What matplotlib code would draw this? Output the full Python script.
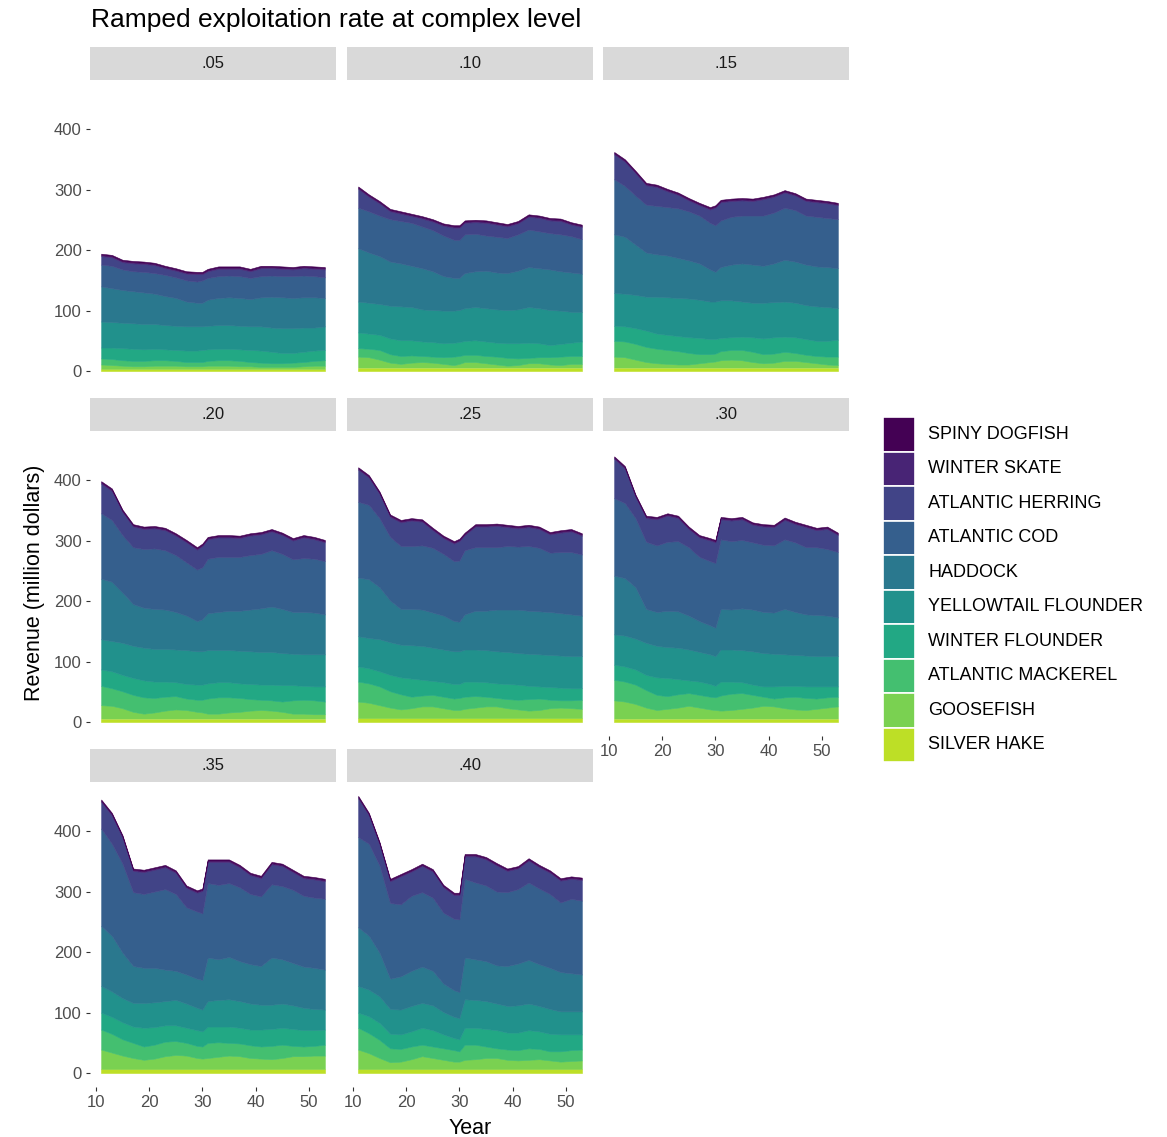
"""Stacked revenue by species for each ramped exploitation rate (facet grid)."""

import matplotlib
matplotlib.use("Agg")
import matplotlib.pyplot as plt

plt.rcParams["font.family"] = ["Liberation Sans", "DejaVu Sans"]

W, H = 1167, 1137

YEARS = [11, 13, 15, 17, 19, 21, 23, 25, 27, 29, 30, 31, 33, 35, 37, 39, 41, 43, 45, 47, 49, 51, 53]

# legend order (top of stack first)
SPECIES = ["SPINY DOGFISH", "WINTER SKATE", "ATLANTIC HERRING", "ATLANTIC COD", "HADDOCK",
           "YELLOWTAIL FLOUNDER", "WINTER FLOUNDER", "ATLANTIC MACKEREL", "GOOSEFISH", "SILVER HAKE"]

RATES = [".05", ".10", ".15", ".20", ".25", ".30", ".35", ".40"]

# revenue (million dollars), one row per species in SPECIES order
REV_05 = [
    [2, 2, 2, 2, 2, 2, 2, 2, 2, 2, 2, 2, 2, 2, 2, 2, 2, 2, 2, 2, 2, 2, 2],
    [2, 2, 2, 2, 2, 2, 2, 2, 2, 2, 2, 2, 2, 2, 2, 2, 2, 2, 2, 2, 2, 2, 2],
    [14, 14, 12, 13, 13, 13, 11, 11, 11, 12, 10, 11, 12, 11, 12, 11, 13, 12, 12, 11, 12, 12, 13],
    [36, 37, 34, 33, 34, 34, 35, 34, 35, 35, 37, 36, 36, 36, 36, 35, 35, 35, 35, 36, 36, 35, 34],
    [58, 56, 54, 53, 52, 50, 48, 46, 41, 39, 39, 43, 45, 46, 46, 45, 48, 51, 51, 50, 50, 50, 47],
    [43, 42, 42, 42, 42, 41, 40, 40, 40, 40, 39, 39, 39, 39, 39, 39, 40, 40, 41, 41, 40, 38, 39],
    [18, 19, 20, 20, 19, 19, 18, 18, 19, 19, 20, 19, 19, 19, 19, 20, 20, 19, 17, 16, 17, 17, 17],
    [10, 10, 9, 9, 9, 9, 9, 8, 7, 7, 7, 8, 9, 9, 9, 7, 7, 6, 6, 7, 7, 8, 9],
    [7, 6, 5, 4, 4, 5, 5, 5, 4, 4, 4, 5, 5, 5, 4, 4, 3, 3, 3, 3, 4, 5, 5],
    [4, 4, 4, 4, 4, 4, 4, 4, 4, 4, 4, 4, 4, 4, 4, 4, 4, 4, 4, 4, 4, 4, 4],
]
REV_10 = [
    [2, 2, 2, 2, 2, 2, 2, 2, 2, 2, 2, 2, 2, 2, 2, 2, 2, 2, 2, 2, 2, 2, 2],
    [2, 2, 2, 2, 2, 2, 2, 2, 2, 2, 2, 2, 2, 2, 2, 2, 2, 2, 2, 2, 2, 2, 2],
    [31, 24, 20, 13, 12, 11, 13, 14, 16, 20, 20, 19, 19, 21, 20, 19, 18, 21, 22, 21, 22, 19, 20],
    [67, 68, 67, 70, 70, 71, 69, 68, 67, 63, 63, 64, 62, 58, 59, 58, 60, 62, 61, 60, 61, 60, 57],
    [88, 83, 79, 73, 71, 68, 68, 64, 57, 54, 53, 58, 59, 62, 61, 61, 64, 66, 66, 67, 65, 65, 63],
    [51, 51, 51, 54, 56, 55, 53, 53, 54, 53, 53, 54, 55, 55, 55, 55, 56, 59, 58, 58, 55, 51, 49],
    [26, 25, 25, 26, 26, 25, 24, 24, 23, 23, 23, 23, 24, 24, 23, 24, 25, 25, 23, 20, 21, 22, 24],
    [14, 14, 16, 14, 13, 12, 10, 10, 11, 14, 13, 12, 12, 12, 13, 13, 11, 9, 10, 12, 14, 13, 13],
    [18, 17, 13, 8, 6, 8, 9, 8, 6, 4, 6, 9, 9, 7, 5, 3, 4, 7, 7, 5, 4, 6, 6],
    [6, 6, 6, 6, 6, 6, 6, 6, 6, 6, 6, 6, 6, 6, 6, 6, 6, 6, 6, 6, 6, 6, 6],
]
REV_15 = [
    [2, 2, 2, 2, 2, 2, 2, 2, 2, 2, 2, 2, 2, 2, 2, 2, 2, 2, 2, 2, 2, 2, 2],
    [2, 2, 2, 2, 2, 2, 2, 2, 2, 2, 2, 2, 2, 2, 2, 2, 2, 2, 2, 2, 2, 2, 2],
    [41, 40, 37, 32, 31, 26, 22, 18, 17, 22, 29, 30, 26, 25, 24, 27, 26, 25, 24, 24, 24, 24, 23],
    [91, 84, 81, 79, 80, 80, 82, 81, 79, 77, 77, 77, 79, 79, 81, 83, 84, 86, 85, 81, 82, 81, 81],
    [97, 94, 83, 73, 70, 69, 66, 63, 60, 53, 49, 55, 59, 63, 63, 61, 64, 69, 68, 67, 66, 66, 66],
    [54, 54, 55, 56, 61, 62, 63, 64, 63, 62, 62, 62, 61, 58, 57, 59, 58, 58, 57, 56, 57, 56, 52],
    [25, 25, 26, 27, 25, 25, 25, 26, 27, 25, 24, 22, 21, 22, 24, 26, 27, 25, 26, 26, 25, 26, 28],
    [26, 26, 26, 25, 24, 23, 22, 19, 15, 13, 13, 15, 16, 17, 17, 15, 15, 15, 13, 12, 12, 13, 14],
    [18, 17, 13, 9, 7, 6, 5, 5, 7, 9, 10, 12, 13, 12, 9, 7, 8, 11, 11, 9, 7, 5, 4],
    [6, 6, 6, 6, 6, 6, 6, 6, 6, 6, 6, 6, 6, 6, 6, 6, 6, 6, 6, 6, 6, 6, 6],
]
REV_20 = [
    [2, 2, 2, 2, 2, 2, 2, 2, 2, 2, 2, 2, 2, 2, 2, 2, 2, 2, 2, 2, 2, 2, 2],
    [2, 2, 2, 2, 2, 2, 2, 2, 2, 2, 2, 2, 2, 2, 2, 2, 2, 2, 2, 2, 2, 2, 2],
    [49, 48, 38, 34, 33, 33, 33, 32, 33, 33, 35, 32, 32, 32, 31, 32, 32, 31, 31, 31, 34, 32, 31],
    [108, 102, 95, 94, 97, 100, 98, 94, 88, 85, 86, 90, 91, 89, 89, 90, 90, 93, 91, 87, 89, 89, 88],
    [100, 98, 83, 69, 66, 66, 65, 62, 57, 50, 53, 61, 63, 65, 66, 69, 72, 75, 73, 69, 70, 69, 66],
    [50, 50, 53, 53, 54, 54, 54, 54, 56, 55, 55, 55, 53, 53, 54, 54, 54, 54, 53, 52, 52, 53, 53],
    [27, 28, 27, 28, 28, 27, 25, 23, 24, 25, 25, 25, 25, 25, 24, 25, 25, 26, 27, 25, 23, 23, 25],
    [32, 29, 28, 28, 27, 24, 23, 22, 19, 20, 21, 25, 27, 25, 23, 19, 17, 17, 17, 22, 23, 23, 21],
    [22, 21, 17, 11, 8, 10, 13, 15, 14, 11, 10, 8, 8, 10, 11, 13, 14, 13, 11, 8, 8, 7, 7],
    [6, 6, 6, 6, 6, 6, 6, 6, 6, 6, 6, 6, 6, 6, 6, 6, 6, 6, 6, 6, 6, 6, 6],
]
REV_25 = [
    [2, 2, 2, 2, 2, 2, 2, 2, 2, 2, 2, 2, 2, 2, 2, 2, 2, 2, 2, 2, 2, 2, 2],
    [2, 2, 2, 2, 2, 2, 2, 2, 2, 2, 2, 2, 2, 2, 2, 2, 2, 2, 2, 2, 2, 2, 2],
    [53, 45, 40, 33, 39, 42, 39, 29, 26, 29, 32, 25, 34, 34, 35, 31, 30, 31, 31, 30, 32, 34, 31],
    [125, 123, 114, 105, 104, 104, 106, 107, 102, 99, 101, 106, 105, 105, 103, 105, 104, 107, 105, 98, 101, 103, 101],
    [97, 97, 86, 69, 59, 60, 60, 58, 56, 50, 49, 58, 64, 65, 69, 70, 72, 71, 71, 71, 70, 69, 67],
    [50, 50, 53, 54, 54, 55, 56, 55, 54, 54, 54, 53, 53, 53, 53, 53, 52, 53, 53, 53, 53, 53, 53],
    [25, 25, 25, 27, 28, 30, 26, 23, 24, 24, 23, 25, 24, 24, 24, 25, 25, 22, 20, 21, 21, 20, 19],
    [33, 32, 31, 27, 25, 19, 18, 19, 19, 19, 20, 20, 19, 16, 14, 15, 16, 19, 19, 14, 12, 13, 15],
    [27, 25, 21, 17, 14, 16, 19, 19, 16, 13, 13, 15, 17, 19, 19, 16, 14, 12, 13, 16, 17, 16, 15],
    [7, 7, 7, 7, 7, 7, 7, 7, 7, 7, 7, 7, 7, 7, 7, 7, 7, 7, 7, 7, 7, 7, 7],
]
REV_30 = [
    [2, 2, 2, 2, 2, 2, 2, 2, 2, 2, 2, 2, 2, 2, 2, 2, 2, 2, 2, 2, 2, 2, 2],
    [2, 2, 2, 2, 2, 2, 2, 2, 2, 2, 2, 2, 2, 2, 2, 2, 2, 2, 2, 2, 2, 2, 2],
    [65, 57, 35, 39, 43, 43, 38, 30, 32, 34, 34, 33, 34, 34, 29, 30, 30, 32, 30, 33, 28, 33, 28],
    [128, 124, 114, 111, 110, 114, 116, 113, 106, 106, 107, 115, 113, 113, 111, 111, 111, 115, 115, 111, 112, 110, 108],
    [97, 95, 85, 56, 56, 60, 60, 56, 51, 48, 47, 67, 66, 69, 69, 68, 68, 75, 71, 68, 68, 67, 64],
    [50, 51, 51, 53, 52, 51, 52, 51, 49, 49, 49, 53, 53, 53, 55, 55, 54, 52, 51, 51, 50, 50, 50],
    [25, 25, 25, 25, 29, 30, 25, 21, 22, 21, 19, 23, 20, 18, 17, 17, 20, 19, 18, 19, 20, 18, 17],
    [34, 33, 32, 29, 25, 21, 22, 21, 21, 21, 21, 25, 27, 26, 21, 15, 13, 18, 21, 20, 17, 17, 16],
    [30, 28, 24, 18, 14, 16, 18, 21, 18, 15, 14, 13, 14, 16, 18, 21, 20, 17, 15, 14, 16, 18, 20],
    [6, 6, 6, 6, 6, 6, 6, 6, 6, 6, 6, 6, 6, 6, 6, 6, 6, 6, 6, 6, 6, 6, 6],
]
REV_35 = [
    [2, 2, 2, 2, 2, 2, 2, 2, 2, 2, 2, 2, 2, 2, 2, 2, 2, 2, 2, 2, 2, 2, 2],
    [2, 2, 2, 2, 2, 2, 2, 2, 2, 2, 2, 2, 2, 2, 2, 2, 2, 2, 2, 2, 2, 2, 2],
    [44, 47, 43, 35, 36, 36, 36, 35, 32, 31, 37, 35, 38, 35, 33, 31, 30, 33, 33, 29, 29, 30, 29],
    [161, 152, 147, 122, 122, 126, 133, 127, 111, 111, 110, 123, 123, 122, 122, 116, 115, 121, 121, 121, 117, 116, 117],
    [99, 92, 75, 61, 58, 57, 52, 48, 48, 48, 49, 72, 67, 70, 66, 65, 64, 78, 73, 70, 68, 68, 66],
    [44, 42, 40, 39, 41, 41, 40, 42, 40, 37, 36, 42, 44, 45, 44, 43, 41, 40, 40, 39, 37, 35, 33],
    [28, 28, 28, 27, 31, 29, 27, 26, 25, 26, 25, 27, 26, 27, 26, 26, 28, 28, 28, 28, 27, 26, 25],
    [33, 31, 27, 25, 22, 23, 24, 23, 21, 20, 20, 25, 24, 21, 21, 21, 20, 22, 22, 17, 16, 16, 18],
    [32, 27, 22, 18, 15, 17, 21, 23, 22, 18, 17, 18, 20, 22, 21, 18, 17, 16, 18, 21, 21, 22, 22],
    [7, 7, 7, 7, 7, 7, 7, 7, 7, 7, 7, 7, 7, 7, 7, 7, 7, 7, 7, 7, 7, 7, 7],
]
REV_40 = [
    [2, 2, 2, 2, 2, 2, 2, 2, 2, 2, 2, 2, 2, 2, 2, 2, 2, 2, 2, 2, 2, 2, 2],
    [2, 2, 2, 2, 2, 2, 2, 2, 2, 2, 2, 2, 2, 2, 2, 2, 2, 2, 2, 2, 2, 2, 2],
    [64, 47, 35, 36, 46, 40, 43, 43, 42, 39, 40, 37, 43, 43, 43, 35, 34, 36, 35, 35, 36, 33, 34],
    [149, 152, 144, 125, 119, 124, 123, 121, 117, 118, 120, 130, 127, 125, 122, 122, 123, 128, 125, 122, 115, 123, 122],
    [97, 89, 72, 50, 55, 58, 60, 57, 47, 44, 43, 69, 67, 66, 63, 66, 69, 72, 69, 68, 65, 63, 61],
    [44, 44, 44, 41, 41, 42, 41, 41, 37, 35, 35, 47, 46, 46, 44, 44, 45, 44, 42, 41, 38, 38, 38],
    [25, 28, 28, 24, 24, 25, 28, 27, 23, 20, 20, 28, 28, 29, 30, 28, 29, 30, 29, 29, 28, 26, 25],
    [36, 33, 30, 23, 21, 21, 19, 19, 19, 19, 17, 25, 24, 19, 16, 17, 17, 19, 17, 15, 17, 18, 18],
    [32, 26, 18, 11, 12, 16, 21, 18, 15, 12, 12, 15, 16, 18, 18, 15, 14, 15, 16, 14, 12, 13, 14],
    [7, 7, 7, 7, 7, 7, 7, 7, 7, 7, 7, 7, 7, 7, 7, 7, 7, 7, 7, 7, 7, 7, 7],
]
PANEL_DATA = [REV_05, REV_10, REV_15, REV_20, REV_25, REV_30, REV_35, REV_40]

X_TICKS = [10, 20, 30, 40, 50]
Y_TICKS = [0, 100, 200, 300, 400]

_cmap = plt.get_cmap("viridis")
COLORS = [_cmap(i / 10) for i in range(len(SPECIES))]

TICK_TXT = "#4D4D4D"
STRIP_BG = "#D9D9D9"

# pixel layout of the facet grid
COL_X = [90, 347, 603]
PANEL_W = 246
ROW_TOP = [80, 431, 782]
PANEL_H = 305
STRIP_H = 33


def px_axes(fig, x0, y0, w, h):
    return fig.add_axes([x0 / W, 1 - (y0 + h) / H, w / W, h / H])


def main():
    fig = plt.figure(figsize=(W / 100, H / 100), dpi=100)

    totals = [sum(rows[s][i] for s in range(len(SPECIES)))
              for rows in PANEL_DATA for i in range(len(YEARS))]
    ymax = max(totals)
    xspan = YEARS[-1] - YEARS[0]

    for k, (rate, rows) in enumerate(zip(RATES, PANEL_DATA)):
        r, c = divmod(k, 3)
        x0, y0 = COL_X[c], ROW_TOP[r]

        # strip
        sax = px_axes(fig, x0, y0 - STRIP_H, PANEL_W, STRIP_H)
        sax.set_facecolor(STRIP_BG)
        sax.set_xticks([])
        sax.set_yticks([])
        for sp in sax.spines.values():
            sp.set_visible(False)
        sax.text(0.5, 0.5, rate, ha="center", va="center", fontsize=12, color="#1A1A1A",
                 transform=sax.transAxes)

        ax = px_axes(fig, x0, y0, PANEL_W, PANEL_H)
        # stack bottom-up: reverse of legend order
        polys = ax.stackplot(YEARS, *rows[::-1], colors=COLORS[::-1])
        for p, col in zip(polys, COLORS[::-1]):
            p.set_edgecolor(col)
            p.set_linewidth(0.4)

        ax.set_xlim(YEARS[0] - 0.05 * xspan, YEARS[-1] + 0.05 * xspan)
        ax.set_ylim(-0.05 * ymax, 1.05 * ymax)
        for sp in ax.spines.values():
            sp.set_visible(False)

        ax.set_xticks(X_TICKS)
        ax.set_yticks(Y_TICKS)
        ax.tick_params(length=3, width=0.8, color="#333333", labelcolor=TICK_TXT,
                       labelsize=12, pad=3)
        bottom_of_col = (k + 3) >= len(RATES)
        if not bottom_of_col:
            ax.tick_params(axis="x", length=0, labelbottom=False)
        if c != 0:
            ax.tick_params(axis="y", length=0, labelleft=False)

    fig.text(91 / W, 1 - 20 / H, "Ramped exploitation rate at complex level",
             fontsize=19, ha="left", va="center", color="black")
    fig.text(35 / W, 1 - 583 / H, "Revenue (million dollars)", rotation=90,
             fontsize=15.5, ha="center", va="center", color="black")
    fig.text(470 / W, 1 - 1128 / H, "Year", fontsize=15.5, ha="center", va="center",
             color="black")

    # legend
    key_x, key_w, key_top, key_h = 883, 32, 417, 34.5
    lax = px_axes(fig, key_x, key_top, 290, key_h * len(SPECIES))
    lax.set_xlim(0, 290)
    lax.set_ylim(key_h * len(SPECIES), 0)
    lax.axis("off")
    for i, (name, col) in enumerate(zip(SPECIES, COLORS)):
        lax.add_patch(plt.Rectangle((0, i * key_h), key_w, key_h, facecolor=col,
                                    edgecolor="white", linewidth=1.2))
        lax.text(45, (i + 0.5) * key_h, name, fontsize=13, ha="left", va="center",
                 color="black")

    fig.savefig("out.png", dpi=100)


if __name__ == "__main__":
    main()
